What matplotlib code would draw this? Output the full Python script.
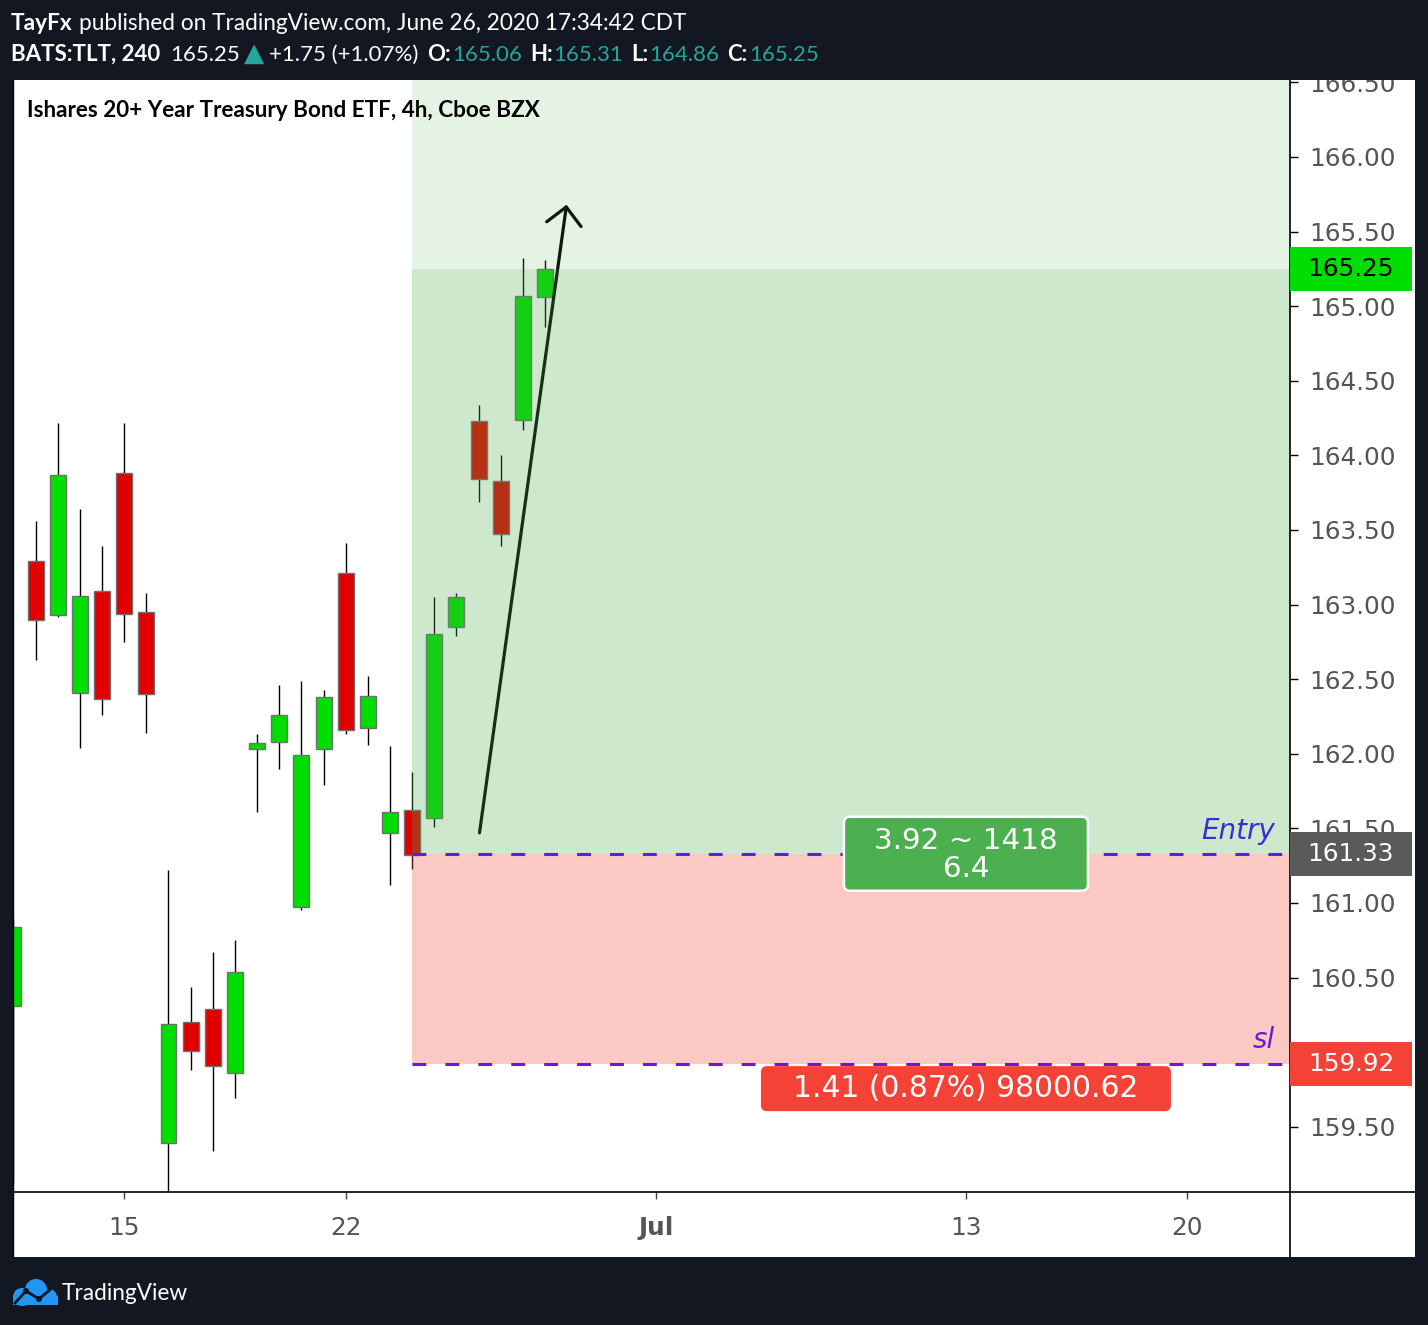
import matplotlib
matplotlib.use("Agg")
import matplotlib.pyplot as plt
import matplotlib.transforms as mtransforms
from matplotlib.patches import Rectangle, FancyBboxPatch, Circle
from matplotlib.lines import Line2D
from matplotlib.ticker import FormatStrFormatter
import numpy as np

plt.rcParams['lines.scale_dashes'] = False

W, H = 1428, 1325

# 4h candles (bar index 0 is the half-cut candle at the left edge)
opens  = [160.31, 163.29, 162.93, 162.41, 163.09, 163.88, 162.95, 159.39, 160.20, 160.29,
          159.86, 162.03, 162.08, 160.97, 162.03, 163.21, 162.17, 161.47, 161.62, 161.57,
          162.85, 164.23, 163.83, 164.24, 165.06]
highs  = [160.89, 163.56, 164.22, 163.64, 163.39, 164.22, 163.08, 161.22, 160.44, 160.67,
          160.75, 162.13, 162.46, 162.49, 162.43, 163.41, 162.52, 162.05, 161.88, 163.05,
          163.08, 164.34, 164.00, 165.32, 165.31]
lows   = [159.12, 162.63, 162.92, 162.04, 162.26, 162.75, 162.14, 159.05, 159.88, 159.34,
          159.69, 161.61, 161.90, 160.95, 161.79, 162.13, 162.06, 161.12, 161.23, 161.51,
          162.79, 163.69, 163.39, 164.17, 164.86]
closes = [160.84, 162.90, 163.87, 163.06, 162.37, 162.94, 162.40, 160.19, 160.01, 159.91,
          160.54, 162.07, 162.26, 161.99, 162.38, 162.16, 162.39, 161.61, 161.32, 162.80,
          163.05, 163.84, 163.47, 165.07, 165.25]

date_ticks = [5, 15, 29, 43, 53]
date_labels = ['15', '22', 'Jul', '13', '20']

price_ticks = [159.5, 160.0, 160.5, 161.0, 161.5, 162.0, 162.5, 163.0,
               163.5, 164.0, 164.5, 165.0, 165.5, 166.0, 166.5]

# long position tool
pos_start = 18
pos_end = 68
entry = 161.33
stop = 159.92
target = 170.35
last = 165.25
target_text = ['3.92 ~ 1418', '6.4']
stop_text = '1.41 (0.87%) 98000.62'

arrow_tail = (21.04, 161.47)
arrow_tip = (24.97, 165.68)

UP = '#00DD00'
DOWN = '#E00000'
BG = '#131722'
TEAL = '#26A69A'
AXIS_TXT = '#555555'

ident = mtransforms.IdentityTransform()


def px(x, y):
    return x, H - y


fig = plt.figure(figsize=(W / 100, H / 100), dpi=100, facecolor=BG)

# white chart panel
fig.patches.append(Rectangle(px(13, 1257), 1415 - 13, 1257 - 80, transform=ident,
                             facecolor='white', edgecolor='none', zorder=-5))

ax = fig.add_axes([13 / W, 1 - 1192 / H, 1277 / W, 1112 / H])
ax.set_facecolor('white')
for sp in ax.spines.values():
    sp.set_visible(False)

x = np.arange(len(opens))
o = np.array(opens)
c = np.array(closes)
cols = [UP if cc >= oo else DOWN for oo, cc in zip(opens, closes)]

ax.vlines(x, lows, highs, color='black', lw=1.0, zorder=1)
ax.bar(x, np.abs(c - o), bottom=np.minimum(o, c), width=0.72, color=cols,
       edgecolor='#707070', linewidth=1.0, zorder=2)

# arrow drawn on the chart
ax.annotate('', xy=arrow_tip, xytext=arrow_tail,
            arrowprops=dict(arrowstyle='->,head_length=1.25,head_width=1.25',
                            color='black', lw=2.3, shrinkA=0, shrinkB=0),
            zorder=2.5)

# position zones
ax.add_patch(Rectangle((pos_start, entry), pos_end - pos_start, target - entry,
                       facecolor='#4CAF50', alpha=0.15, lw=0, zorder=3))
ax.add_patch(Rectangle((pos_start, entry), pos_end - pos_start, last - entry,
                       facecolor='#4CAF50', alpha=0.15, lw=0, zorder=3))
ax.add_patch(Rectangle((pos_start, stop), pos_end - pos_start, entry - stop,
                       facecolor='#F44336', alpha=0.29, lw=0, zorder=3))

ax.plot([pos_start, pos_end], [entry, entry], color='#5522DD', lw=2.2,
        dashes=(10, 13.7), zorder=4)
ax.plot([pos_start, pos_end], [stop, stop], color='#6A1BCC', lw=2.2,
        dashes=(10, 13.7), zorder=4)

ax.annotate('Entry', xy=(1, entry), xycoords=('axes fraction', 'data'),
            xytext=(-15, 15), textcoords='offset pixels', ha='right', va='baseline',
            fontsize=20, style='italic', color='#3B2DD6', zorder=5)
ax.annotate('sl', xy=(1, stop), xycoords=('axes fraction', 'data'),
            xytext=(-15, 16), textcoords='offset pixels', ha='right', va='baseline',
            fontsize=20, style='italic', color='#6A1BCC', zorder=5)

ax.set_xlim(-0.02, 57.63)
ax.set_ylim(159.063, 166.516)

ax.yaxis.tick_right()
ax.set_yticks(price_ticks)
ax.yaxis.set_major_formatter(FormatStrFormatter('%.2f'))
ax.tick_params(axis='y', direction='out', length=6, width=1, pad=8,
               labelsize=17.8, labelcolor=AXIS_TXT, color='black')
ax.set_xticks(date_ticks, date_labels)
ax.tick_params(axis='x', direction='out', length=5, width=1, pad=12,
               labelsize=17.8, labelcolor=AXIS_TXT, color='#444444')
for lab in ax.get_xticklabels():
    if lab.get_text() == 'Jul':
        lab.set_fontweight('bold')

# axis border lines
fig.lines.append(Line2D([1290, 1290], [H - 80, H - 1257], transform=ident, color='black', lw=1.2, zorder=6))
fig.lines.append(Line2D([13, 1415], [H - 1192, H - 1192], transform=ident, color='black', lw=1.2, zorder=6))
fig.lines.append(Line2D([13, 13], [H - 80, H - 1257], transform=ident, color='black', lw=1.0, zorder=6))

# labels of the position tool, placed from data positions
mid = (pos_start + pos_end) / 2
gx, gy = ax.transData.transform((mid, entry))
fig.patches.append(FancyBboxPatch((gx - 122, gy - 37), 244, 74, transform=ident,
                                  boxstyle='round,pad=0,rounding_size=6',
                                  facecolor='#4CAF50', edgecolor='white', lw=1.8, zorder=7))
fig.text(gx, gy + 5, target_text[0], transform=ident, ha='center', va='baseline',
         fontsize=21.2, color='white', zorder=8)
fig.text(gx, gy - 23, target_text[1], transform=ident, ha='center', va='baseline',
         fontsize=21.2, color='white', zorder=8)

rx, ry = ax.transData.transform((mid, stop))
fig.patches.append(FancyBboxPatch((rx - 205, ry - 47), 410, 45, transform=ident,
                                  boxstyle='round,pad=0,rounding_size=6',
                                  facecolor='#F44336', edgecolor='none', zorder=7))
fig.text(rx, ry - 33, stop_text, transform=ident, ha='center', va='baseline',
         fontsize=21.4, color='white', zorder=8)

# price boxes on the right scale
for price, face, tcol in [(last, '#00DD00', 'black'), (entry, '#5A5A5A', 'white'),
                          (stop, '#F44336', 'white')]:
    _, yy = ax.transData.transform((0, price))
    fig.patches.append(Rectangle((1290, yy - 22), 122, 44, transform=ident,
                                 facecolor=face, edgecolor='none', zorder=7))
    fig.text(1351, yy, '%.2f' % price, transform=ident, ha='center', va='center',
             fontsize=17.8, color=tcol, zorder=8)

# dark header strip covers anything above the chart
fig.patches.append(Rectangle((0, H - 80), W, 80, transform=ident,
                             facecolor=BG, edgecolor='none', zorder=10))
fig.patches.append(Rectangle((1415, 0), W - 1415, H, transform=ident,
                             facecolor=BG, edgecolor='none', zorder=10))

HF = ['Lato', 'DejaVu Sans']
renderer = fig.canvas.get_renderer()


def run_text(pieces, x0, base, size):
    xx = x0
    for s, color, weight, gap, fam, fs in pieces:
        t = fig.text(xx, H - base, s, transform=ident, color=color,
                     fontsize=fs or size, fontweight=weight, family=fam or HF,
                     va='baseline', zorder=12)
        xx = t.get_window_extent(renderer).x1 + gap


run_text([('TayFx', 'white', 'bold', 6, None, None),
          ('published on TradingView.com, June 26, 2020 17:34:42 CDT', 'white', 'normal', 0, None, None)],
         11, 30, 16.3)
run_text([('BATS:TLT, 240', 'white', 'bold', 10, None, None),
          ('165.25', 'white', 'normal', 4, None, None),
          ('▲', TEAL, 'normal', 5, 'DejaVu Sans', 19),
          ('+1.75 (+1.07%)', 'white', 'normal', 9, None, None),
          ('O:', 'white', 'bold', 1, None, None), ('165.06', TEAL, 'normal', 8, None, None),
          ('H:', 'white', 'bold', 1, None, None), ('165.31', TEAL, 'normal', 8, None, None),
          ('L:', 'white', 'bold', 1, None, None), ('164.86', TEAL, 'normal', 8, None, None),
          ('C:', 'white', 'bold', 1, None, None), ('165.25', TEAL, 'normal', 0, None, None)],
         11, 61, 16.0)

fig.text(27, H - 117, 'Ishares 20+ Year Treasury Bond ETF, 4h, Cboe BZX', transform=ident,
         family=HF, fontweight='bold', fontsize=16.2, color='black', va='baseline', zorder=12)

# footer logo
blue = '#2196F3'
for cx, cy, r in [(22, 1297, 9), (36, 1290, 11), (49, 1297, 8)]:
    fig.patches.append(Circle(px(cx, cy), r, transform=ident, facecolor=blue,
                              edgecolor='none', zorder=12))
fig.patches.append(Rectangle(px(13, 1305), 45, 9, transform=ident, facecolor=blue,
                             edgecolor='none', zorder=12))
zig = [px(15, 1303), px(26, 1291), px(39, 1299), px(52, 1288)]
fig.lines.append(Line2D([p[0] for p in zig], [p[1] for p in zig], transform=ident,
                        color=BG, lw=2.0, zorder=13))
for p in zig[1:3]:
    fig.patches.append(Circle(p, 3, transform=ident, facecolor=BG, edgecolor='none', zorder=13))
fig.text(62, H - 1300, 'TradingView', transform=ident, family=HF, fontsize=16.3,
         color='white', va='baseline', zorder=12)

fig.savefig('out.png', dpi=100, facecolor=BG)
